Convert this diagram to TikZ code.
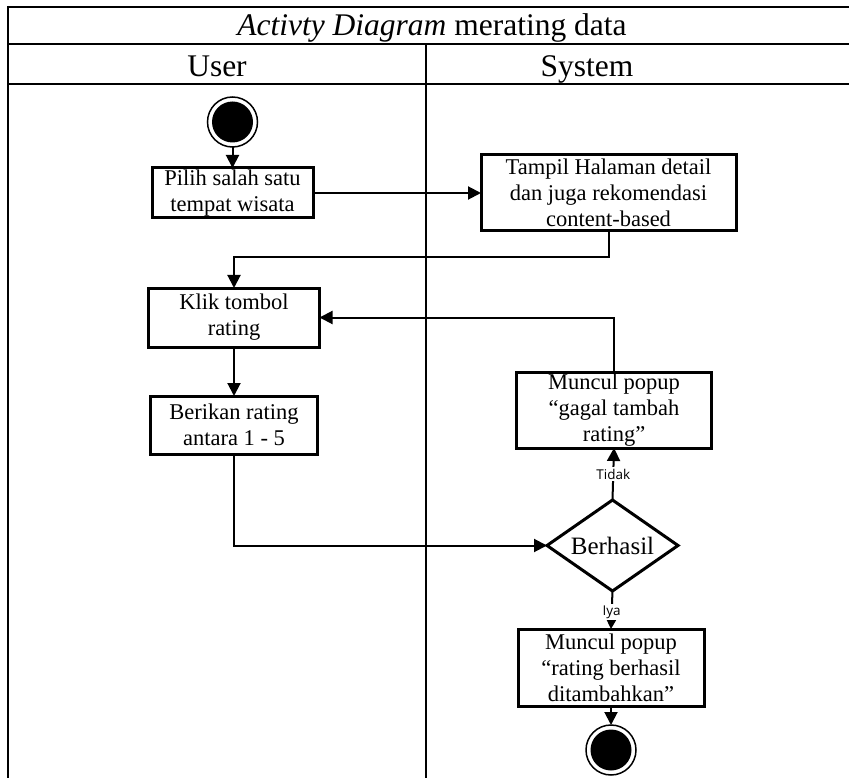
\documentclass[tikz,border=0pt]{standalone}
\usepackage{fontspec}
\setmainfont{Liberation Serif}
\newfontfamily\lblfont{Open Sans}
\usetikzlibrary{arrows.meta,shapes.geometric}

\begin{document}
\begin{tikzpicture}[x=1pt,y=-1pt,
  every node/.style={inner sep=0pt, outer sep=0pt},
  grid/.style={line width=2pt},
  actbox/.style={draw, line width=3pt, fill=white, align=center,
    font=\fontsize{22.5}{26}\selectfont},
  decbox/.style={diamond, draw, line width=3pt, fill=white, aspect=1.44,
    font=\fontsize{25}{30}\selectfont},
  conn/.style={line width=2pt, -{Triangle[length=13pt,width=13pt]}},
  smallconn/.style={line width=2pt, -{Triangle[length=9pt,width=9pt]}},
  guard/.style={fill=white, inner sep=1.5pt, font=\lblfont\fontsize{13.5}{16}\selectfont},
  head/.style={anchor=base, font=\fontsize{31.5}{36}\selectfont},
  ring/.style={circle, draw, line width=1.5pt, minimum size=50pt},
  dot/.style={circle, fill=black, minimum size=41pt}
]
\useasboundingbox (0,0) rectangle (849,778);

% swimlane table
\draw[grid] (8,7) -- (849,7);
\draw[grid] (8,44) -- (849,44);
\draw[grid] (8,84) -- (849,84);
\draw[grid] (8,6) -- (8,778);
\draw[grid] (426,44) -- (426,778);

\node[head] (title) at (432,36) {\textit{Activty Diagram} merating data};
\node[head] (laneuser) at (217,77) {User};
\node[head] (lanesys) at (587,77) {System};

% initial state
\node[ring] (start) at (232.5,122) {};
\node[dot] (startdot) at (start) {};

% activities
\node[actbox, minimum width=161pt, minimum height=50pt] (pilih) at (232.5,193)
  {Pilih salah satu\\tempat wisata};
\node[actbox, minimum width=255pt, minimum height=76pt] (tampil) at (608.5,193)
  {Tampil Halaman detail\\dan juga rekomendasi\\content-based};
\node[actbox, minimum width=171pt, minimum height=59pt] (klik) at (234,317.5)
  {Klik tombol\\rating};
\node[actbox, minimum width=167pt, minimum height=58pt] (berikan) at (234,425)
  {Berikan rating\\antara 1 - 5};
\node[actbox, minimum width=195pt, minimum height=76pt] (gagal) at (614,410)
  {Muncul popup\\``gagal tambah\\rating''};
\node[decbox, minimum width=131pt, minimum height=91pt] (cek) at (612.5,545.5)
  {Berhasil};
\node[actbox, minimum width=186pt, minimum height=77pt] (sukses) at (611,667.5)
  {Muncul popup\\``rating berhasil\\ditambahkan''};

% final state
\node[ring] (stop) at (611,750) {};
\node[dot] (stopdot) at (stop) {};

% flows
\draw[conn] (start.south) -- (pilih.north);
\draw[conn] (pilih.east) -- (tampil.west);
\draw[conn] (tampil.south) -- ++(0,26) -| (klik.north);
\draw[conn] (klik.south) -- (berikan.north);
\draw[conn] (berikan.south) |- (cek.west);
\draw[conn] (cek.north) -- node[guard] (ltidak) {Tidak} (gagal.south);
\draw[conn] (gagal.north) |- (klik.east);
\draw[smallconn] (cek.south) -- node[guard, pos=0.55] (liya) {Iya} (sukses.north);
\draw[conn] (sukses.south) -- (stop.north);
\end{tikzpicture}
\end{document}
